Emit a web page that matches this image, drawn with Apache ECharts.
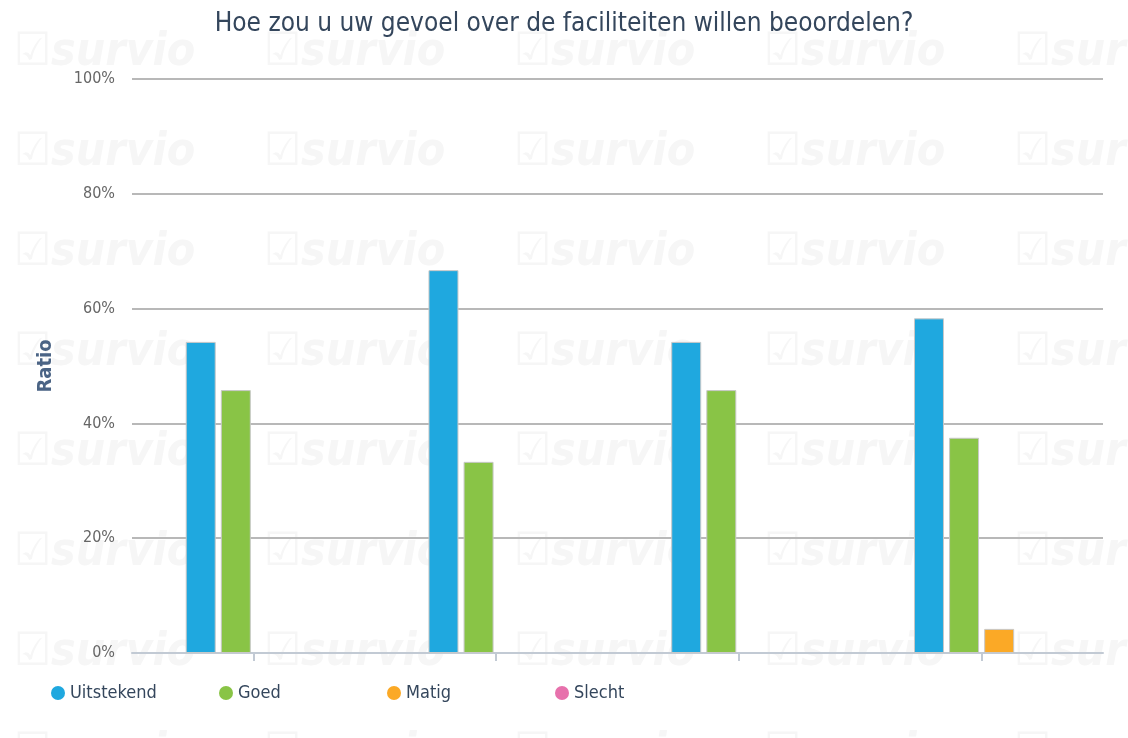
<!DOCTYPE html>
<head>
    <meta charset="utf-8">
    <title>ECharts</title>
    <style>
        html, body { margin: 0; padding: 0; background: #fff; }
        #main { width: 1128px; height: 738px; }
    </style>
</head>
<body>
    <div id="main"></div>
    <script src="https://cdn.jsdelivr.net/npm/echarts@6/dist/echarts.min.js"></script>
    <script type="text/javascript">
        // data (percent of respondents)
        var categories = ['1', '2', '3', '4'];
        var uitstekend = [54.2, 66.7, 54.2, 58.3];
        var goed = [45.8, 33.3, 45.8, 37.5];
        var matig = [0, 0, 0, 4.2];
        var slecht = [0, 0, 0, 0];
        var seriesNames = ['Uitstekend', 'Goed', 'Matig', 'Slecht'];
        var colors = ['#1fa8df', '#89c446', '#fba926', '#e771ac'];

        var FONT = '"DejaVu Sans Condensed", "DejaVu Sans", sans-serif';

        var myChart = echarts.init(document.getElementById('main'));

        // faint "survio" watermark tiles
        var marks = [];
        for (var r = 0; r < 8; r++) {
            for (var c = 0; c < 5; c++) {
                marks.push({
                    type: 'text',
                    left: 14 + c * 250,
                    top: 30 + r * 100,
                    z: -10,
                    silent: true,
                    style: {
                        text: '\u2611survio',
                        fill: '#f6f6f6',
                        font: 'italic bold 46px ' + FONT
                    }
                });
            }
        }

        var series = [uitstekend, goed, matig, slecht].map(function (d, i) {
            return {
                name: seriesNames[i],
                type: 'bar',
                data: d.map(function (v) { return v > 0 ? v : null; }),
                barWidth: 30,
                barGap: '17%',
                itemStyle: { color: colors[i], borderColor: '#c8c8c8', borderWidth: 1 }
            };
        });

        // one legend per entry so the items sit on a fixed pitch
        var legends = seriesNames.map(function (n, i) {
            return {
                left: 46 + i * 168,
                top: 679,
                icon: 'circle',
                itemWidth: 14,
                itemHeight: 14,
                itemStyle: { borderWidth: 0 },
                data: [n],
                textStyle: { fontFamily: FONT, fontSize: 18, color: '#34465c' }
            };
        });

        var option = {
            animation: false,
            color: colors,
            graphic: marks,
            title: {
                text: 'Hoe zou u uw gevoel over de faciliteiten willen beoordelen?',
                left: 'center',
                top: 6,
                textStyle: { fontFamily: FONT, fontSize: 26, fontWeight: 'normal', color: '#34465c' }
            },
            legend: legends,
            grid: { left: 132, right: 25, top: 79, bottom: 85 },
            xAxis: {
                type: 'category',
                data: categories,
                axisLabel: { show: true, formatter: function () { return ''; } },
                axisLine: { lineStyle: { color: '#c2cad4', width: 2 } },
                axisTick: { show: true, alignWithLabel: true, length: 8, lineStyle: { color: '#c2cad4', width: 2 } }
            },
            yAxis: {
                type: 'value',
                min: 0,
                max: 100,
                interval: 20,
                name: 'Ratio',
                nameLocation: 'middle',
                nameGap: 76,
                nameTextStyle: { fontFamily: FONT, fontSize: 20, fontWeight: 'bold', color: '#4b6485' },
                axisLabel: { formatter: '{value}%', fontFamily: FONT, fontSize: 16, color: '#666', margin: 17 },
                splitLine: { lineStyle: { color: '#b8b8b8', width: 2 } }
            },
            series: series
        };

        myChart.setOption(option);
    </script>
</body>
